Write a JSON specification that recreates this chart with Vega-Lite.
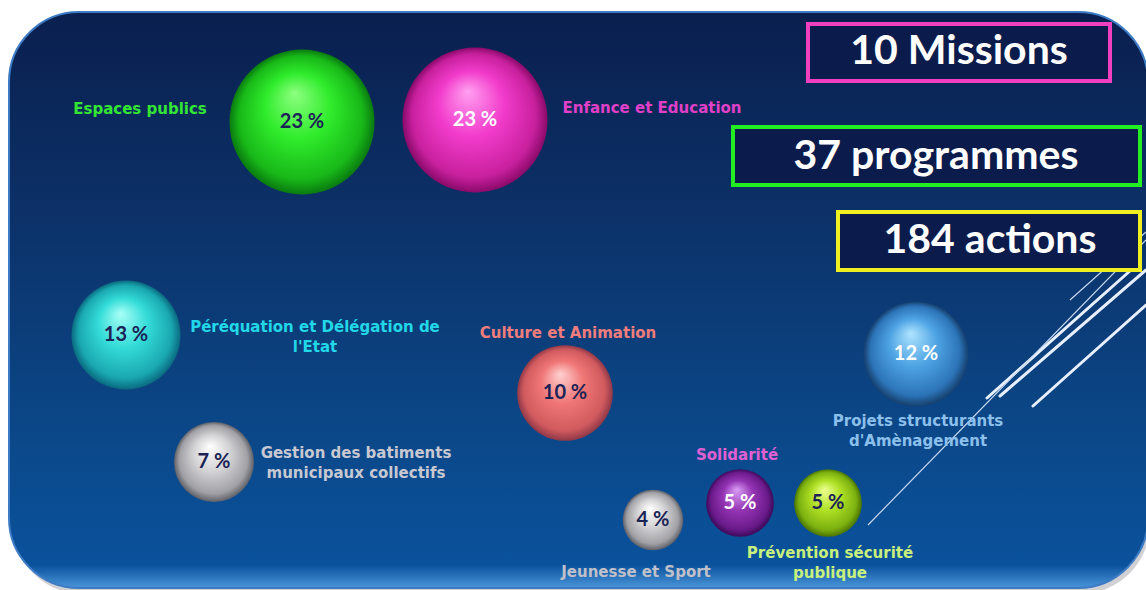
{
  "$schema": "https://vega.github.io/schema/vega-lite/v6.json",
  "width": 1146,
  "height": 590,
  "padding": 0,
  "autosize": "none",
  "background": "white",
  "config": {"view": {"stroke": null}},
  "datasets": {
    "panel": [{"part": "shadow", "x": 13, "x2": 1150, "y": 18, "y2": 594}, {"part": "panel", "x": 9, "x2": 1148, "y": 12, "y2": 588}],
    "bubbles": [
      {"id": "esp", "mission": "Espaces publics", "pct": 23, "label": "23 %", "x": 302, "y": 122},
      {"id": "enf", "mission": "Enfance et Education", "pct": 23, "label": "23 %", "x": 475, "y": 120},
      {"id": "per", "mission": "Péréquation et Délégation de l'Etat", "pct": 13, "label": "13 %", "x": 126, "y": 335},
      {"id": "cul", "mission": "Culture et Animation", "pct": 10, "label": "10 %", "x": 565, "y": 393},
      {"id": "ges", "mission": "Gestion des batiments municipaux collectifs", "pct": 7, "label": "7 %", "x": 214, "y": 462},
      {"id": "proj", "mission": "Projets structurants d'Amènagement", "pct": 12, "label": "12 %", "x": 916, "y": 354},
      {"id": "sol", "mission": "Solidarité", "pct": 5, "label": "5 %", "x": 740, "y": 503},
      {"id": "prev", "mission": "Prévention sécurité publique", "pct": 5, "label": "5 %", "x": 828, "y": 503},
      {"id": "jeu", "mission": "Jeunesse et Sport", "pct": 4, "label": "4 %", "x": 653, "y": 520}
    ],
    "labels": [
      {"id": "esp", "text": "Espaces publics", "x": 140, "y": 109},
      {"id": "enf", "text": "Enfance et Education", "x": 652, "y": 108},
      {"id": "per", "text": "Péréquation et Délégation de\nl'Etat", "x": 315, "y": 327},
      {"id": "cul", "text": "Culture et Animation", "x": 568, "y": 333},
      {"id": "ges", "text": "Gestion des batiments\nmunicipaux collectifs", "x": 356, "y": 453},
      {"id": "proj", "text": "Projets structurants\nd'Amènagement", "x": 918, "y": 421},
      {"id": "sol", "text": "Solidarité", "x": 737, "y": 455},
      {"id": "prev", "text": "Prévention sécurité\npublique", "x": 830, "y": 553},
      {"id": "jeu", "text": "Jeunesse et Sport", "x": 636, "y": 572}
    ],
    "lines": [
      {"kind": "thick", "x": 987, "y": 398, "x2": 1140, "y2": 262},
      {"kind": "thick", "x": 1000, "y": 396, "x2": 1146, "y2": 270},
      {"kind": "thick", "x": 1033, "y": 406, "x2": 1146, "y2": 305},
      {"kind": "thin", "x": 868, "y": 525, "x2": 1146, "y2": 240},
      {"kind": "thin", "x": 1070, "y": 300, "x2": 1146, "y2": 232}
    ],
    "boxes": [
      {"box": "missions", "text": "10 Missions", "x": 808, "x2": 1110, "y": 24, "y2": 81, "cx": 959, "cy": 52},
      {"box": "programmes", "text": "37 programmes", "x": 733, "x2": 1140, "y": 127, "y2": 185, "cx": 936, "cy": 157},
      {"box": "actions", "text": "184 actions", "x": 838, "x2": 1140, "y": 212, "y2": 270, "cx": 990, "cy": 241}
    ]
  },
  "layer": [
    {
      "data": {"name": "panel"},
      "transform": [{"filter": "datum.part === 'shadow'"}],
      "mark": {"type": "rect", "cornerRadius": 70, "fill": "#9a9aa0", "opacity": 0.45},
      "encoding": {
        "x": {"field": "x", "type": "quantitative", "scale": {"domain": [0, 1146], "nice": false, "zero": false}, "axis": null},
        "x2": {"field": "x2"},
        "y": {"field": "y", "type": "quantitative", "scale": {"domain": [0, 590], "nice": false, "zero": false, "reverse": true}, "axis": null},
        "y2": {"field": "y2"}
      }
    },
    {
      "data": {"name": "panel"},
      "transform": [{"filter": "datum.part === 'panel'"}],
      "mark": {
        "type": "rect", "cornerRadius": 70, "stroke": "#3d7cc4", "strokeWidth": 2,
        "fill": {"gradient": "linear", "x1": 0, "y1": 0, "x2": 0, "y2": 1, "stops": [
          {"offset": 0, "color": "#0a1f4e"},
          {"offset": 0.35, "color": "#0c3168"},
          {"offset": 0.7, "color": "#0b4686"},
          {"offset": 0.96, "color": "#0a529c"},
          {"offset": 1, "color": "#4a95da"}
        ]}
      },
      "encoding": {
        "x": {"field": "x", "type": "quantitative", "scale": {"domain": [0, 1146], "nice": false, "zero": false}, "axis": null},
        "x2": {"field": "x2"},
        "y": {"field": "y", "type": "quantitative", "scale": {"domain": [0, 590], "nice": false, "zero": false, "reverse": true}, "axis": null},
        "y2": {"field": "y2"}
      }
    },
    {
      "data": {"name": "lines"},
      "transform": [{"filter": "datum.kind === 'thick'"}],
      "mark": {"type": "rule", "color": "#e8f0ff", "strokeWidth": 3, "strokeCap": "round"},
      "encoding": {
        "x": {"field": "x", "type": "quantitative", "scale": {"domain": [0, 1146], "nice": false, "zero": false}, "axis": null},
        "x2": {"field": "x2"},
        "y": {"field": "y", "type": "quantitative", "scale": {"domain": [0, 590], "nice": false, "zero": false, "reverse": true}, "axis": null},
        "y2": {"field": "y2"}
      }
    },
    {
      "data": {"name": "lines"},
      "transform": [{"filter": "datum.kind === 'thin'"}],
      "mark": {"type": "rule", "color": "#c8d8f0", "strokeWidth": 1.2},
      "encoding": {
        "x": {"field": "x", "type": "quantitative", "scale": {"domain": [0, 1146], "nice": false, "zero": false}, "axis": null},
        "x2": {"field": "x2"},
        "y": {"field": "y", "type": "quantitative", "scale": {"domain": [0, 590], "nice": false, "zero": false, "reverse": true}, "axis": null},
        "y2": {"field": "y2"}
      }
    },
    {
      "data": {"name": "boxes"},
      "mark": {"type": "rect", "fill": "#0b1c4c", "strokeWidth": 4},
      "encoding": {
        "x": {"field": "x", "type": "quantitative", "scale": {"domain": [0, 1146], "nice": false, "zero": false}, "axis": null},
        "x2": {"field": "x2"},
        "y": {"field": "y", "type": "quantitative", "scale": {"domain": [0, 590], "nice": false, "zero": false, "reverse": true}, "axis": null},
        "y2": {"field": "y2"},
        "stroke": {"field": "box", "type": "nominal", "scale": {"domain": ["missions", "programmes", "actions"], "range": ["#f040c0", "#22ee22", "#f0f020"]}, "legend": null}
      }
    },
    {
      "data": {"name": "boxes"},
      "mark": {"type": "text", "font": "Lato", "fontWeight": "bold", "fontSize": 41, "color": "white", "align": "center", "baseline": "middle"},
      "encoding": {
        "x": {"field": "cx", "type": "quantitative", "scale": {"domain": [0, 1146], "nice": false, "zero": false}, "axis": null},
        "y": {"field": "cy", "type": "quantitative", "scale": {"domain": [0, 590], "nice": false, "zero": false, "reverse": true}, "axis": null},
        "text": {"field": "text", "type": "nominal"}
      }
    },
    {
      "data": {"name": "bubbles"},
      "transform": [{"filter": "datum.id === 'esp'"}],
      "mark": {"type": "point", "shape": "circle", "filled": true, "opacity": 1, "strokeWidth": 0,
        "fill": {"gradient": "radial", "x1": 0.45, "y1": 0.3, "r1": 0, "x2": 0.5, "y2": 0.5, "r2": 0.5, "stops": [
          {"offset": 0, "color": "#8dff80"}, {"offset": 0.45, "color": "#30ec2c"}, {"offset": 0.85, "color": "#18b818"}, {"offset": 1, "color": "#0a7a10"}]}},
      "encoding": {
        "x": {"field": "x", "type": "quantitative", "scale": {"domain": [0, 1146], "nice": false, "zero": false}, "axis": null},
        "y": {"field": "y", "type": "quantitative", "scale": {"domain": [0, 590], "nice": false, "zero": false, "reverse": true}, "axis": null},
        "size": {"field": "pct", "type": "quantitative", "scale": {"domain": [0, 23], "range": [0, 21025], "zero": true}, "legend": null}
      }
    },
    {
      "data": {"name": "bubbles"},
      "transform": [{"filter": "datum.id === 'enf'"}],
      "mark": {"type": "point", "shape": "circle", "filled": true, "opacity": 1, "strokeWidth": 0,
        "fill": {"gradient": "radial", "x1": 0.45, "y1": 0.3, "r1": 0, "x2": 0.5, "y2": 0.5, "r2": 0.5, "stops": [
          {"offset": 0, "color": "#ffa0f0"}, {"offset": 0.45, "color": "#f23ccb"}, {"offset": 0.85, "color": "#c8209e"}, {"offset": 1, "color": "#8a0a6a"}]}},
      "encoding": {
        "x": {"field": "x", "type": "quantitative", "scale": {"domain": [0, 1146], "nice": false, "zero": false}, "axis": null},
        "y": {"field": "y", "type": "quantitative", "scale": {"domain": [0, 590], "nice": false, "zero": false, "reverse": true}, "axis": null},
        "size": {"field": "pct", "type": "quantitative", "scale": {"domain": [0, 23], "range": [0, 21025], "zero": true}, "legend": null}
      }
    },
    {
      "data": {"name": "bubbles"},
      "transform": [{"filter": "datum.id === 'per'"}],
      "mark": {"type": "point", "shape": "circle", "filled": true, "opacity": 1, "strokeWidth": 0,
        "fill": {"gradient": "radial", "x1": 0.45, "y1": 0.3, "r1": 0, "x2": 0.5, "y2": 0.5, "r2": 0.5, "stops": [
          {"offset": 0, "color": "#a8fff6"}, {"offset": 0.45, "color": "#34dcd8"}, {"offset": 0.85, "color": "#1aa8b0"}, {"offset": 1, "color": "#0a6a80"}]}},
      "encoding": {
        "x": {"field": "x", "type": "quantitative", "scale": {"domain": [0, 1146], "nice": false, "zero": false}, "axis": null},
        "y": {"field": "y", "type": "quantitative", "scale": {"domain": [0, 590], "nice": false, "zero": false, "reverse": true}, "axis": null},
        "size": {"field": "pct", "type": "quantitative", "scale": {"domain": [0, 23], "range": [0, 21025], "zero": true}, "legend": null}
      }
    },
    {
      "data": {"name": "bubbles"},
      "transform": [{"filter": "datum.id === 'cul'"}],
      "mark": {"type": "point", "shape": "circle", "filled": true, "opacity": 1, "strokeWidth": 0,
        "fill": {"gradient": "radial", "x1": 0.45, "y1": 0.3, "r1": 0, "x2": 0.5, "y2": 0.5, "r2": 0.5, "stops": [
          {"offset": 0, "color": "#ffd0d0"}, {"offset": 0.45, "color": "#f07676"}, {"offset": 0.85, "color": "#d05a5e"}, {"offset": 1, "color": "#903848"}]}},
      "encoding": {
        "x": {"field": "x", "type": "quantitative", "scale": {"domain": [0, 1146], "nice": false, "zero": false}, "axis": null},
        "y": {"field": "y", "type": "quantitative", "scale": {"domain": [0, 590], "nice": false, "zero": false, "reverse": true}, "axis": null},
        "size": {"field": "pct", "type": "quantitative", "scale": {"domain": [0, 23], "range": [0, 21025], "zero": true}, "legend": null}
      }
    },
    {
      "data": {"name": "bubbles"},
      "transform": [{"filter": "datum.id === 'ges' || datum.id === 'jeu'"}],
      "mark": {"type": "point", "shape": "circle", "filled": true, "opacity": 1, "strokeWidth": 0,
        "fill": {"gradient": "radial", "x1": 0.45, "y1": 0.3, "r1": 0, "x2": 0.5, "y2": 0.5, "r2": 0.5, "stops": [
          {"offset": 0, "color": "#ffffff"}, {"offset": 0.45, "color": "#d4d4d6"}, {"offset": 0.85, "color": "#a0a0a6"}, {"offset": 1, "color": "#606068"}]}},
      "encoding": {
        "x": {"field": "x", "type": "quantitative", "scale": {"domain": [0, 1146], "nice": false, "zero": false}, "axis": null},
        "y": {"field": "y", "type": "quantitative", "scale": {"domain": [0, 590], "nice": false, "zero": false, "reverse": true}, "axis": null},
        "size": {"field": "pct", "type": "quantitative", "scale": {"domain": [0, 23], "range": [0, 21025], "zero": true}, "legend": null}
      }
    },
    {
      "data": {"name": "bubbles"},
      "transform": [{"filter": "datum.id === 'proj'"}],
      "mark": {"type": "point", "shape": "circle", "filled": true, "opacity": 1, "strokeWidth": 0,
        "fill": {"gradient": "radial", "x1": 0.45, "y1": 0.3, "r1": 0, "x2": 0.5, "y2": 0.5, "r2": 0.5, "stops": [
          {"offset": 0, "color": "#b0e4ff"}, {"offset": 0.45, "color": "#4ea4e4"}, {"offset": 0.85, "color": "#2c74b8"}, {"offset": 1, "color": "#16406e"}]}},
      "encoding": {
        "x": {"field": "x", "type": "quantitative", "scale": {"domain": [0, 1146], "nice": false, "zero": false}, "axis": null},
        "y": {"field": "y", "type": "quantitative", "scale": {"domain": [0, 590], "nice": false, "zero": false, "reverse": true}, "axis": null},
        "size": {"field": "pct", "type": "quantitative", "scale": {"domain": [0, 23], "range": [0, 21025], "zero": true}, "legend": null}
      }
    },
    {
      "data": {"name": "bubbles"},
      "transform": [{"filter": "datum.id === 'sol'"}],
      "mark": {"type": "point", "shape": "circle", "filled": true, "opacity": 1, "strokeWidth": 0,
        "fill": {"gradient": "radial", "x1": 0.45, "y1": 0.3, "r1": 0, "x2": 0.5, "y2": 0.5, "r2": 0.5, "stops": [
          {"offset": 0, "color": "#d89cf4"}, {"offset": 0.45, "color": "#9434b4"}, {"offset": 0.85, "color": "#6a1a8a"}, {"offset": 1, "color": "#3c0a5a"}]}},
      "encoding": {
        "x": {"field": "x", "type": "quantitative", "scale": {"domain": [0, 1146], "nice": false, "zero": false}, "axis": null},
        "y": {"field": "y", "type": "quantitative", "scale": {"domain": [0, 590], "nice": false, "zero": false, "reverse": true}, "axis": null},
        "size": {"field": "pct", "type": "quantitative", "scale": {"domain": [0, 23], "range": [0, 21025], "zero": true}, "legend": null}
      }
    },
    {
      "data": {"name": "bubbles"},
      "transform": [{"filter": "datum.id === 'prev'"}],
      "mark": {"type": "point", "shape": "circle", "filled": true, "opacity": 1, "strokeWidth": 0,
        "fill": {"gradient": "radial", "x1": 0.45, "y1": 0.3, "r1": 0, "x2": 0.5, "y2": 0.5, "r2": 0.5, "stops": [
          {"offset": 0, "color": "#eeff90"}, {"offset": 0.45, "color": "#aee024"}, {"offset": 0.85, "color": "#7cb010"}, {"offset": 1, "color": "#4a7400"}]}},
      "encoding": {
        "x": {"field": "x", "type": "quantitative", "scale": {"domain": [0, 1146], "nice": false, "zero": false}, "axis": null},
        "y": {"field": "y", "type": "quantitative", "scale": {"domain": [0, 590], "nice": false, "zero": false, "reverse": true}, "axis": null},
        "size": {"field": "pct", "type": "quantitative", "scale": {"domain": [0, 23], "range": [0, 21025], "zero": true}, "legend": null}
      }
    },
    {
      "data": {"name": "bubbles"},
      "mark": {"type": "text", "font": "Lato", "fontWeight": "bold", "fontSize": 20, "align": "center", "baseline": "middle"},
      "encoding": {
        "x": {"field": "x", "type": "quantitative", "scale": {"domain": [0, 1146], "nice": false, "zero": false}, "axis": null},
        "y": {"field": "y", "type": "quantitative", "scale": {"domain": [0, 590], "nice": false, "zero": false, "reverse": true}, "axis": null},
        "text": {"field": "label", "type": "nominal"},
        "color": {"condition": {"test": "datum.id === 'enf' || datum.id === 'sol' || datum.id === 'proj'", "value": "#ffffff"}, "value": "#1c2456"}
      }
    },
    {
      "data": {"name": "labels"},
      "mark": {"type": "text", "font": "DejaVu Sans", "fontWeight": "bold", "fontSize": 15, "align": "center", "baseline": "middle", "lineBreak": "\n", "lineHeight": 20},
      "encoding": {
        "x": {"field": "x", "type": "quantitative", "scale": {"domain": [0, 1146], "nice": false, "zero": false}, "axis": null},
        "y": {"field": "y", "type": "quantitative", "scale": {"domain": [0, 590], "nice": false, "zero": false, "reverse": true}, "axis": null},
        "text": {"field": "text", "type": "nominal"},
        "color": {"field": "id", "type": "nominal", "legend": null, "scale": {
          "domain": ["esp", "enf", "per", "cul", "ges", "proj", "sol", "prev", "jeu"],
          "range": ["#33e633", "#e040c8", "#22d8e8", "#f07c7c", "#c8c8d2", "#8cc0ec", "#e060d4", "#c8f07c", "#c0c0ca"]}}
      }
    }
  ]
}
